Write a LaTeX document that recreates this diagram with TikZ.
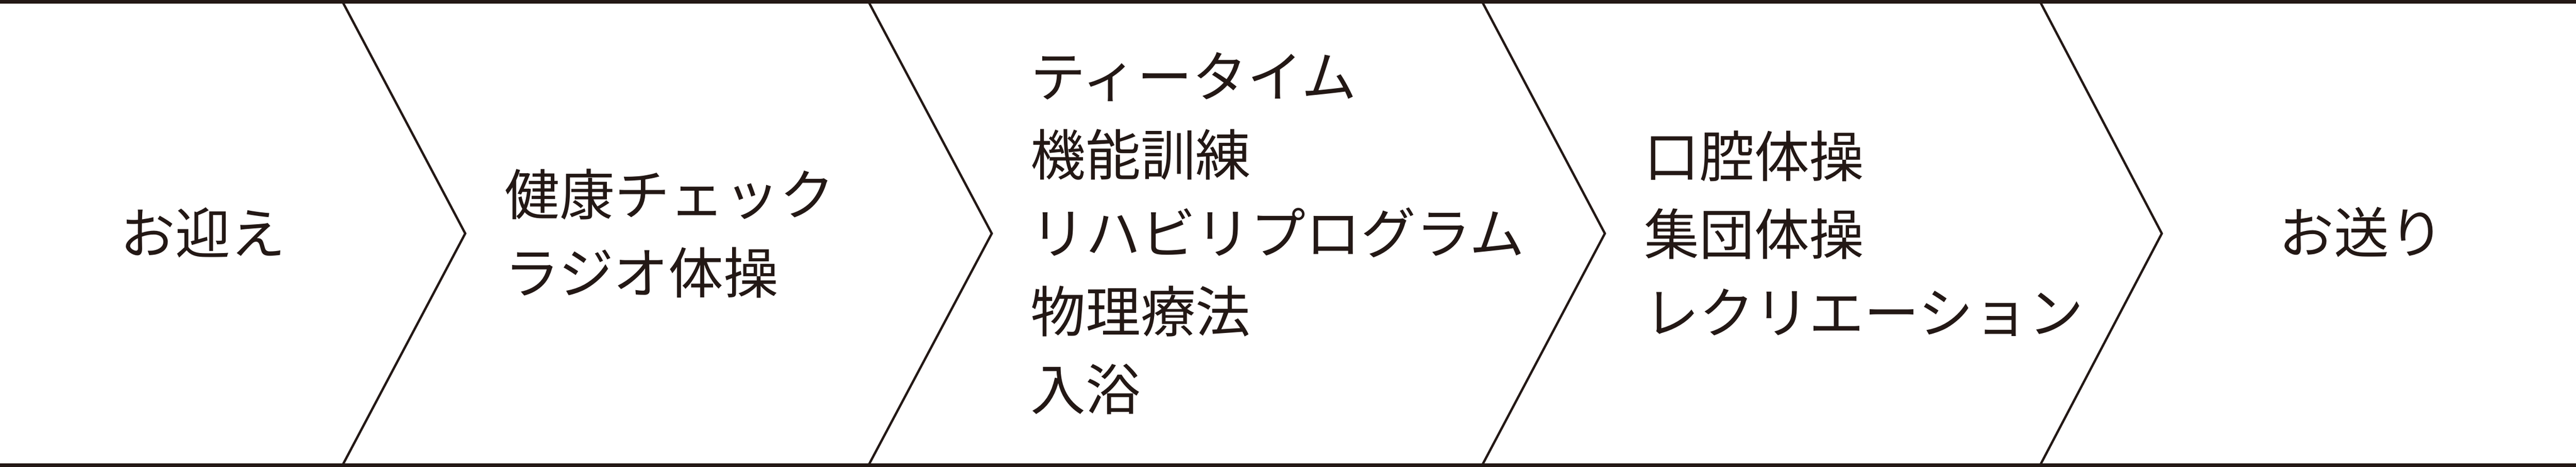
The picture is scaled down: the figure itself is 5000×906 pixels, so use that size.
\documentclass[tikz,border=0pt]{standalone}
\usepackage{fontspec}
\usepackage{xcolor}
\usepackage{tikz}
\usetikzlibrary{positioning,calc}
\newfontfamily\jpfont{Noto Sans CJK JP}
\definecolor{inkblack}{HTML}{231815}
\tikzset{
  flowfont/.style={font=\jpfont\fontsize{15.2}{21.6}\selectfont},
  flowtext/.style={flowfont, text=inkblack, inner sep=0pt, align=left},
  flowedge/.style={draw=inkblack, line width=0.64pt, line join=miter},
  flowrule/.style={draw=inkblack, line width=1pt},
}
\begin{document}
\begin{tikzpicture}[x=0.05mm,y=0.05mm]
	\useasboundingbox (0,0) rectangle (5000,906);
			% Top and bottom rules
				\coordinate (tl) at (0,902.5);
				\coordinate (tr) at (5000,902.5);
				\coordinate (bl) at (0,3.5);
				\coordinate (br) at (5000,3.5);
				\draw[flowrule] (tl) -- (tr);
				\draw[flowrule] (bl) -- (br);

			% Chevron separators
				\coordinate (c1t) at (663,906);  \coordinate (c1p) at (903,453);  \coordinate (c1b) at (663,0);
				\coordinate (c2t) at (1684,906); \coordinate (c2p) at (1925,453); \coordinate (c2b) at (1684,0);
				\coordinate (c3t) at (2875,906); \coordinate (c3p) at (3115,453); \coordinate (c3b) at (2875,0);
				\coordinate (c4t) at (3958,906); \coordinate (c4p) at (4196,453); \coordinate (c4b) at (3958,0);
				\draw[flowedge] (c1t) -- (c1p) -- (c1b);
				\draw[flowedge] (c2t) -- (c2p) -- (c2b);
				\draw[flowedge] (c3t) -- (c3p) -- (c3b);
				\draw[flowedge] (c4t) -- (c4p) -- (c4b);

			% Steps of the day
				\node[flowtext] (arrive) at (394,455) {お迎え};
				\node[flowtext, anchor=west] (check) at (978,453)
				{健康チェック\\ラジオ体操};
				\node[flowtext, anchor=west] (program) at (1999,453)
				{ティータイム\\機能訓練\\リハビリプログラム\\物理療法\\入浴};
				\node[flowtext, anchor=west] (group) at (3190,453)
				{口腔体操\\集団体操\\レクリエーション};
				\node[flowtext] (leave) at (4584,455) {お送り};
\end{tikzpicture}
\end{document}
